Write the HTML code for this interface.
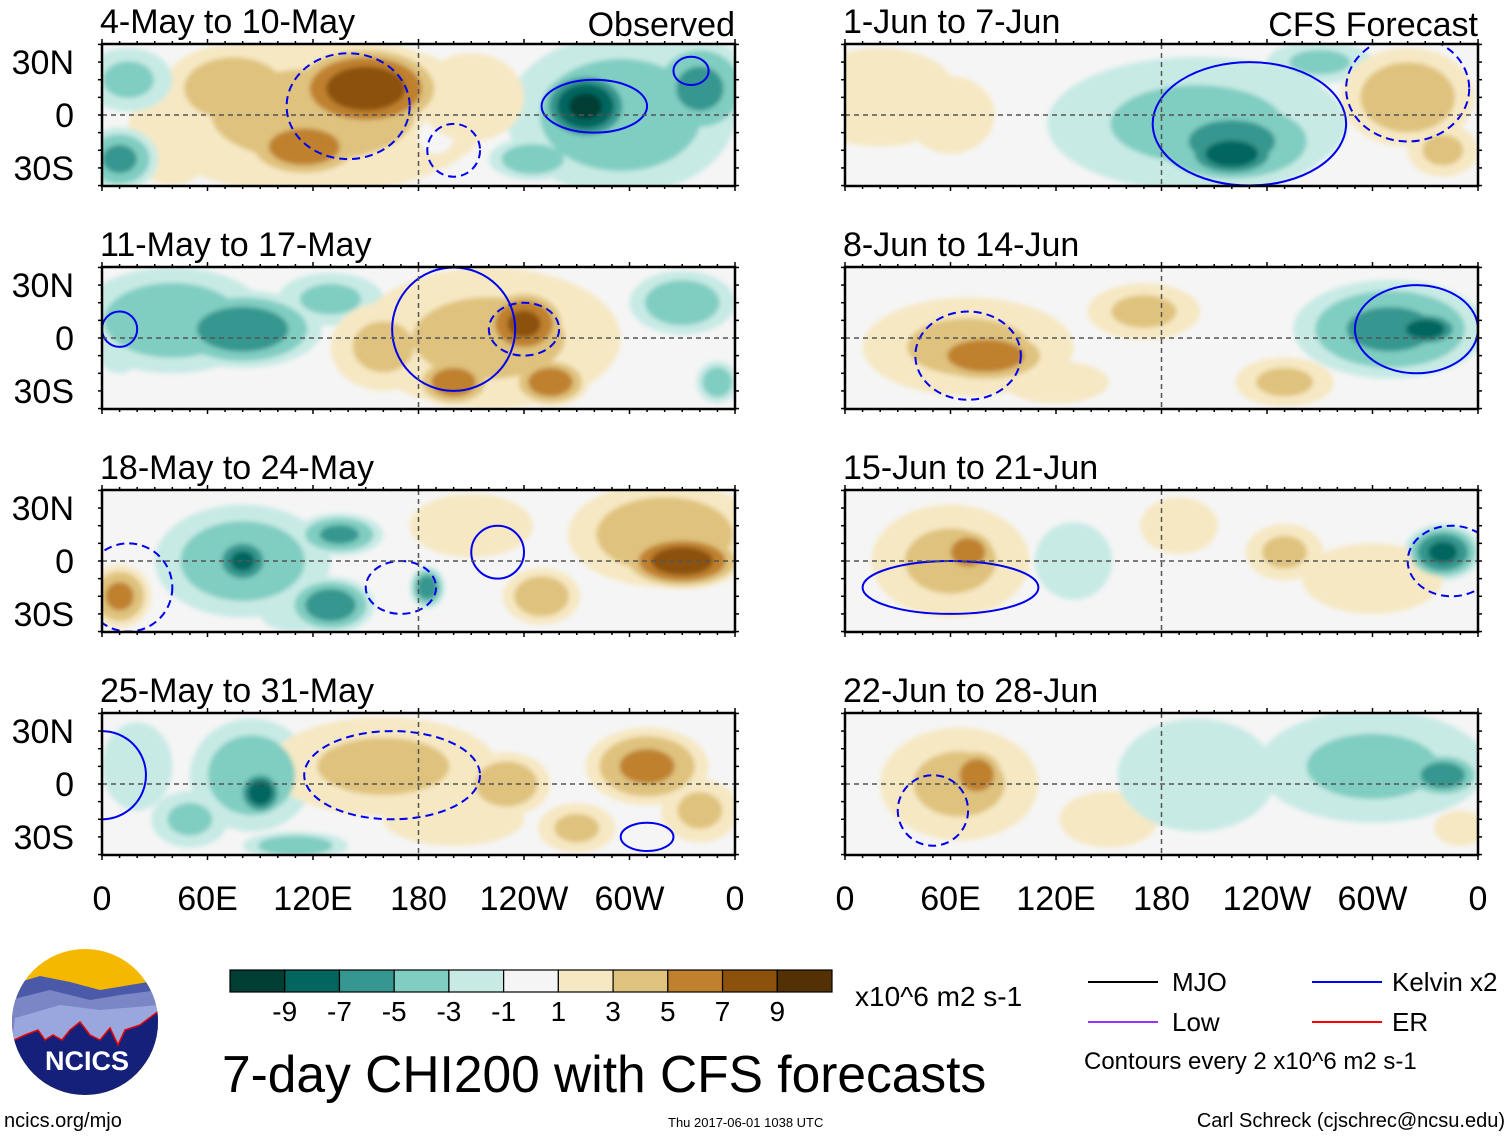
<!DOCTYPE html>
<html><head><meta charset="utf-8"><style>
html,body{margin:0;padding:0;background:#fff;}
body{width:1510px;height:1137px;position:relative;overflow:hidden;font-family:"Liberation Sans",Arial,sans-serif;}
</style></head><body>
<svg id="fig" width="1510" height="1137" xmlns="http://www.w3.org/2000/svg" font-family="Liberation Sans, Arial, sans-serif">
<defs>
<filter id="soft" x="-20%" y="-20%" width="140%" height="140%"><feGaussianBlur stdDeviation="2.5"/></filter>
<clipPath id="logoclip"><circle cx="85" cy="1022" r="73"/></clipPath>
</defs>
<g id="panels"></g>
<g id="cbar"></g>
<text x="855" y="1006" font-size="28">x10^6 m2 s-1</text>
<text x="222" y="1092" font-size="51.5">7-day CHI200 with CFS forecasts</text>
<g font-size="26">
<line x1="1088" y1="982" x2="1158" y2="982" stroke="#000" stroke-width="2"/><text x="1172" y="991">MJO</text>
<line x1="1088" y1="1022" x2="1158" y2="1022" stroke="#9b30ff" stroke-width="2"/><text x="1172" y="1031">Low</text>
<line x1="1312" y1="982" x2="1382" y2="982" stroke="#0000ff" stroke-width="2"/><text x="1392" y="991">Kelvin x2</text>
<line x1="1312" y1="1022" x2="1382" y2="1022" stroke="#ff0000" stroke-width="2"/><text x="1392" y="1031">ER</text>
<text x="1084" y="1069" font-size="24">Contours every 2 x10^6 m2 s-1</text>
</g>
<g>
<g clip-path="url(#logoclip)">
<rect x="10" y="948" width="150" height="150" fill="#f5b800"/>
<path d="M10 985 L40 976 L70 982 L100 990 L130 985 L160 980 L160 1060 L10 1060Z" fill="#4a5aa8"/>
<path d="M10 1000 L50 990 L90 1000 L120 995 L160 990 L160 1060 L10 1060Z" fill="#7a86c6"/>
<path d="M15 1018 L60 1005 L100 1010 L160 1005 L160 1060 L10 1060Z" fill="#9aa6de"/>
<path d="M10 1042 L25 1035 L38 1030 L45 1040 L53 1035 L62 1040 L70 1030 L80 1022 L90 1035 L100 1040 L110 1028 L118 1045 L125 1030 L140 1025 L160 1010 L160 1100 L10 1100Z" fill="#14207a" stroke="#e00" stroke-width="1.5"/>
</g>
<text x="87" y="1070" font-size="27" font-weight="bold" fill="#fff" text-anchor="middle">NCICS</text>
</g>
<text x="4" y="1127" font-size="20">ncics.org/mjo</text>
<text x="668" y="1127" font-size="13">Thu 2017-06-01 1038 UTC</text>
<text x="1505" y="1127" font-size="20" text-anchor="end">Carl Schreck (cjschrec@ncsu.edu)</text>
</svg>
<script>
// ---- data ----
const panelTitles = ["4-May to 10-May","11-May to 17-May","18-May to 24-May","25-May to 31-May","1-Jun to 7-Jun","8-Jun to 14-Jun","15-Jun to 21-Jun","22-Jun to 28-Jun"];
const levelValues = [1,3,5,7,9];
const colorbarLabels = ["-9","-7","-5","-3","-1","1","3","5","7","9"];
const latTicks = [30,0,-30];
const latLabels = ["30N","0","30S"];
const lonTicks = [0,60,120,180,240,300,360];
const lonLabels = ["0","60E","120E","180","120W","60W","0"];
// anomaly blobs per panel: [lon, lat, rxDeg, ryDeg, value]
const blobs0 = [[120,0,100,45,3],[75,15,40,25,4],[150,15,45,25,8],[115,-18,35,18,6],[40,-10,25,30,2],[275,5,28,22,-9],[295,0,65,45,-4],[340,15,30,28,-5],[10,-25,22,18,-5],[15,20,25,18,-3],[245,-25,25,12,-4],[190,-12,10,10,0],[210,10,30,25,2]];
const blobs1 = [[80,5,45,22,-6],[40,10,55,30,-4],[130,22,30,15,-3],[220,0,75,40,3],[240,8,25,20,7],[200,-25,22,14,6],[255,-25,22,14,6],[160,-5,30,25,3],[330,20,30,18,-4],[350,-25,12,12,-4],[10,0,15,20,-2]];
const blobs2 = [[80,0,50,32,-4],[80,0,18,15,-7],[130,-25,25,16,-6],[135,15,25,12,-5],[185,-15,10,12,-6],[320,15,55,30,4],[330,0,35,16,8],[10,-20,18,18,5],[250,-20,22,16,4],[210,20,35,18,2],[110,-30,20,10,-2]];
const blobs3 = [[85,5,35,32,-4],[90,-5,14,14,-8],[50,-20,22,16,-3],[110,-35,30,8,-4],[160,10,65,28,3],[230,0,25,18,4],[310,10,35,22,5],[340,-15,22,18,3],[270,-25,22,14,3],[200,-20,40,15,2],[20,10,20,25,-2]];
const blobs4 = [[200,-5,85,38,-3],[220,-15,55,27,-5],[220,-22,30,15,-8],[270,30,30,12,-3],[320,10,38,28,4],[20,10,45,28,2],[60,0,25,22,2],[340,-20,20,15,3]];
const blobs5 = [[70,-5,60,28,3],[80,-10,38,16,6],[170,15,32,16,3],[250,-25,28,14,3],[310,5,55,28,-5],[330,5,22,11,-8],[120,-25,30,12,2]];
const blobs6 = [[60,0,45,32,3],[70,5,17,14,6],[190,20,22,16,2],[250,5,22,16,3],[340,5,22,16,-7],[130,0,22,22,-2],[300,-10,40,20,2]];
const blobs7 = [[65,0,45,32,3],[75,5,17,16,6],[150,-20,28,16,2],[300,10,65,32,-3],[340,5,22,13,-6],[200,5,45,32,-2],[350,-25,15,10,2]];
const panelBlobs = [blobs0,blobs1,blobs2,blobs3,blobs4,blobs5,blobs6,blobs7];
// contour ellipses: [lon, lat, rxDeg, ryDeg, dashed(1/0)]
const contours = [
 [[140,5,35,30,1],[200,-20,15,15,1],[280,5,30,15,0],[335,25,10,8,0]],
 [[200,5,35,35,0],[240,5,20,15,1],[10,5,10,10,0]],
 [[225,5,15,15,0],[170,-15,20,15,1],[15,-15,25,25,1]],
 [[165,5,50,25,1],[0,5,25,25,0],[310,-30,15,8,0]],
 [[230,-5,55,35,0],[320,15,35,30,1]],
 [[325,5,35,25,0],[70,-10,30,25,1]],
 [[60,-15,50,15,0],[345,0,25,20,1]],
 [[50,-15,20,20,1]]
];
const posColors = ["#f6e8c3","#dfc27d","#bf812d","#8c510a","#543005"];
const negColors = ["#c7eae5","#80cdc1","#35978f","#01665e","#003d33"];
const cbarColors = ["#003d33","#01665e","#35978f","#80cdc1","#c7eae5","#f5f5f5","#f6e8c3","#dfc27d","#bf812d","#8c510a","#543005"];

// ---- geometry ----
const NS="http://www.w3.org/2000/svg";
const colX=[102,845], pW=633;
const rowTop=[44,267,490,713], pH=142;
function lonToX(c,lon){return colX[c]+lon/360*pW;}
function latToY(r,lat){return rowTop[r]+pH/2-lat*(pH/80.5);}
function mk(tag,attrs,parent){const e=document.createElementNS(NS,tag);for(const k in attrs)e.setAttribute(k,attrs[k]);parent.appendChild(e);return e;}
const root=document.getElementById('panels');

for(let p=0;p<8;p++){
 const c=p<4?0:1, r=p%4;
 const g=mk('g',{},root);
 
 
 const x0=colX[c], y0=rowTop[r];
 const cpp=mk('clipPath',{id:'clip'+p},g);
 mk('rect',{x:x0,y:y0,width:pW,height:pH},cpp);
 mk('rect',{x:x0,y:y0,width:pW,height:pH,fill:'#f5f5f5'},g);
 const fg=mk('g',{'clip-path':'url(#clip'+p+')'},g);
 const bl=mk('g',{filter:'url(#soft)'},fg);
 const bs=panelBlobs[p];
 for(let li=0;li<levelValues.length;li++){
  const L=levelValues[li];
  bs.forEach(b=>{
   const v=Math.abs(b[4]);
   if(b[4]===0){ if(li!==0)return; }
   else if(v<L)return;
   const s=b[4]===0?1:Math.sqrt((v-L+1)/v);
   const el=mk('ellipse',{cx:lonToX(c,b[0]),cy:latToY(r,b[1]),rx:b[2]*s*pW/360,ry:b[3]*s*pH/80.5,fill:b[4]===0?'#f5f5f5':(b[4]>0?posColors[li]:negColors[li])},bl);
   
   
  });
 }
 contours[p].forEach(k=>{
  const el=mk('ellipse',{cx:lonToX(c,k[0]),cy:latToY(r,k[1]),rx:k[2]*pW/360,ry:k[3]*pH/80.5,fill:'none',stroke:'#0000ee','stroke-width':2,'stroke-dasharray':k[4]?'8,5':'none'},fg);
  
  
 });
 mk('line',{x1:x0,x2:x0+pW,y1:latToY(r,0),y2:latToY(r,0),stroke:'#555','stroke-width':1.5,'stroke-dasharray':'5,4'},g);
 mk('line',{x1:lonToX(c,180),x2:lonToX(c,180),y1:y0,y2:y0+pH,stroke:'#555','stroke-width':1.5,'stroke-dasharray':'5,4'},g);
 mk('rect',{x:x0,y:y0,width:pW,height:pH,fill:'none',stroke:'#000','stroke-width':2.5},g);
 for(let lo=0;lo<=360;lo+=10){
  const big=lo%60===0;
  const X=lonToX(c,lo);
  mk('line',{x1:X,x2:X,y1:y0-(big?5:3),y2:y0,stroke:'#000','stroke-width':1.5},g);
  mk('line',{x1:X,x2:X,y1:y0+pH,y2:y0+pH+(big?5:3),stroke:'#000','stroke-width':1.5},g);
 }
 for(let la=-40;la<=40;la+=10){
  const Y=latToY(r,la);
  mk('line',{x1:x0-4,x2:x0,y1:Y,y2:Y,stroke:'#000','stroke-width':1.5},g);
  mk('line',{x1:x0+pW,x2:x0+pW+4,y1:Y,y2:Y,stroke:'#000','stroke-width':1.5},g);
 }
 const t=mk('text',{x:x0-2,y:y0-11,'font-size':34},g);t.textContent=panelTitles[p];
 
 
 if(c===0){
  latTicks.forEach((la,i)=>{const tt=mk('text',{x:74,y:latToY(r,la)+12,'font-size':34,'text-anchor':'end'},g);tt.textContent=latLabels[i];
   
   });
 }
 if(r===0){
  const h=mk('text',{x:x0+pW,y:y0-8,'font-size':34,'text-anchor':'end'},g);h.textContent=c===0?'Observed':'CFS Forecast';
  
  
 }
 if(r===3){
  lonTicks.forEach((lo,i)=>{const tt=mk('text',{x:lonToX(c,lo),y:910,'font-size':34,'text-anchor':'middle'},g);tt.textContent=lonLabels[i];
   
   });
 }
}
const cb=document.getElementById('cbar');
const cbX=230, cbW=602/11;
cbarColors.forEach((col,i)=>{
 const rr=mk('rect',{x:cbX+i*cbW,y:970,width:cbW,height:22,fill:col,stroke:'#000','stroke-width':1.2},cb);
 
 
});
colorbarLabels.forEach((l,i)=>{
 const tt=mk('text',{x:cbX+(i+1)*cbW,y:1021,'font-size':28,'text-anchor':'middle'},cb);tt.textContent=l;
 
 
});
</script>
</body></html>
